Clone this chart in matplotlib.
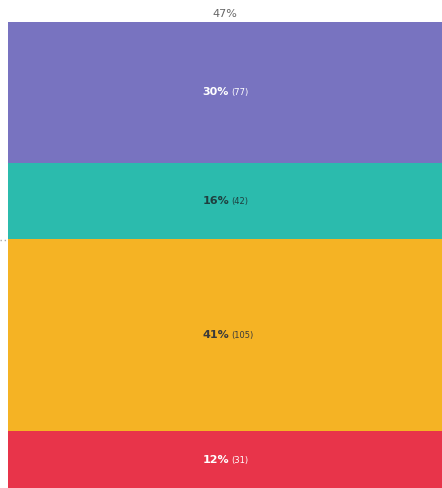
import matplotlib.pyplot as plt
from matplotlib.lines import Line2D

# segments from bottom to top
categories = ["red", "orange", "teal", "purple"]
counts = [31, 105, 42, 77]
percents = ["12%", "41%", "16%", "30%"]
colors = ["#E8344A", "#F5B324", "#2BBBAD", "#7873C0"]
text_colors = ["#FFFFFF", "#3A3A3A", "#1F3F3F", "#FFFFFF"]
column_label = "47%"

fig = plt.figure(figsize=(4.42, 4.88), dpi=100)
ax = fig.add_axes([8 / 442, 0, 1 - 8 / 442, 1 - 22 / 488])

total = sum(counts)
bottom = 0
for c, p, col, tc in zip(counts, percents, colors, text_colors):
    ax.bar(0.5, c, width=1.0, bottom=bottom, color=col, edgecolor="none")
    mid = bottom + c / 2
    ax.annotate(p, xy=(0.5, mid), xytext=(3, 0), textcoords="offset points",
                ha="right", va="center", fontsize=8, fontweight="semibold", color=tc)
    ax.annotate(f"({c})", xy=(0.5, mid), xytext=(4.5, -0.3), textcoords="offset points",
                ha="left", va="center", fontsize=6, color=tc)
    bottom += c

ax.set_xlim(0, 1)
ax.set_ylim(0, total)
ax.axis("off")

fig.text(225 / 442, 1 - 14 / 488, column_label, ha="center", va="center",
         fontsize=8, color="#666666")

# small dotted guide at the left edge
yline = 1 - 240 / 488
fig.add_artist(Line2D([0, 8 / 442], [yline, yline], transform=fig.transFigure,
                      color="#AAAAAA", linestyle=(0, (1, 2)), linewidth=1))

fig.savefig("out.png", dpi=100)
